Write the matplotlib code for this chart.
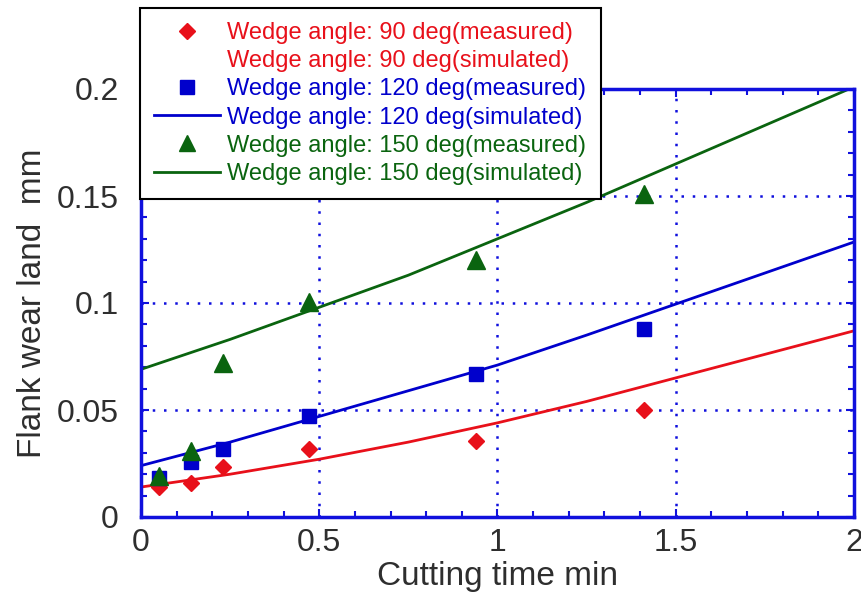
import numpy as np
import matplotlib
matplotlib.use("Agg")
import matplotlib.pyplot as plt
from matplotlib.lines import Line2D
from matplotlib.ticker import MultipleLocator

plt.rcParams['font.family'] = ['Liberation Sans', 'DejaVu Sans']

# measured points
t_meas = [0.05, 0.14, 0.23, 0.47, 0.94, 1.41]
vb_90 = [0.014, 0.016, 0.0235, 0.032, 0.0355, 0.050]
vb_120 = [0.018, 0.0257, 0.032, 0.047, 0.067, 0.088]
vb_150 = [0.019, 0.031, 0.072, 0.1005, 0.120, 0.151]

# simulated curves
t_sim = [0, 0.25, 0.5, 0.75, 1.0, 1.25, 1.5, 1.75, 2.0]
sim_90 = [0.014, 0.020, 0.027, 0.035, 0.044, 0.054, 0.065, 0.076, 0.087]
sim_120 = [0.024, 0.035, 0.047, 0.059, 0.071, 0.085, 0.0995, 0.114, 0.1285]
sim_150 = [0.069, 0.083, 0.098, 0.113, 0.130, 0.147, 0.165, 0.183, 0.201]

labels = ['Wedge angle: 90 deg(measured)', 'Wedge angle: 90 deg(simulated)',
          'Wedge angle: 120 deg(measured)', 'Wedge angle: 120 deg(simulated)',
          'Wedge angle: 150 deg(measured)', 'Wedge angle: 150 deg(simulated)']

red = '#e8101a'
blue = '#0000cc'
green = '#0a640f'
axcol = '#1010dd'

fig = plt.figure(figsize=(8.62, 5.93), dpi=100)
ax = fig.add_axes([141/862, 76/593, 713/862, 428/593])

ax.plot(t_sim, sim_90, color=red, lw=2)
ax.plot(t_sim, sim_120, color=blue, lw=2)
ax.plot(t_sim, sim_150, color=green, lw=2)
ax.plot(t_meas, vb_90, 'D', color=red, ms=8.5, ls='none')
ax.plot(t_meas, vb_120, 's', color=blue, ms=10.5, ls='none')
ax.plot(t_meas, vb_150, '^', color=green, ms=12.5, ls='none')

ax.set_xlim(0, 2)
ax.set_ylim(0, 0.2)
ax.xaxis.set_minor_locator(MultipleLocator(0.1))
ax.yaxis.set_minor_locator(MultipleLocator(0.01))
ax.set_xticks([0, 0.5, 1, 1.5, 2])
ax.set_xticklabels(['0', '0.5', '1', '1.5', '2'])
ax.set_yticks([0, 0.05, 0.1, 0.15, 0.2])
ax.set_yticklabels(['0', '0.05', '0.1', '0.15', '0.2'])
ax.grid(True, which='major', color=axcol, ls=(0, (1, 3.5)), lw=1.8)
for s in ax.spines.values():
    s.set_color(axcol)
    s.set_linewidth(2.5)
ax.tick_params(which='both', direction='in', top=True, right=True, color=axcol,
               labelcolor='#2e2e2e', labelsize=23)
ax.tick_params(which='major', length=6, width=1.5)
ax.tick_params(which='minor', length=4, width=1.5)
ax.tick_params(axis='y', pad=16)
ax.tick_params(axis='x', pad=8)
ax.set_xlabel('Cutting time min', fontsize=24, color='#2e2e2e', labelpad=2)
ax.set_ylabel('Flank wear land  mm', fontsize=24, color='#2e2e2e', labelpad=6)

handles = [
    Line2D([], [], color=red, marker='D', ms=8, ls='none'),
    Line2D([], [], color=red, ls='none'),
    Line2D([], [], color=blue, marker='s', ms=10, ls='none'),
    Line2D([], [], color=blue, lw=2),
    Line2D([], [], color=green, marker='^', ms=12, ls='none'),
    Line2D([], [], color=green, lw=2),
]
leg = fig.legend(handles, labels, loc='upper left', bbox_to_anchor=(140/862, 585/593),
                 fontsize=17, frameon=True, fancybox=False, edgecolor='black',
                 framealpha=1, handlelength=2.8, handletextpad=0.3, labelspacing=0.26,
                 borderpad=0.6, borderaxespad=0)
leg.get_frame().set_linewidth(1.5)
tc = [red, red, blue, blue, green, green]
for txt, c in zip(leg.get_texts(), tc):
    txt.set_color(c)

fig.savefig('out.png', dpi=100)
